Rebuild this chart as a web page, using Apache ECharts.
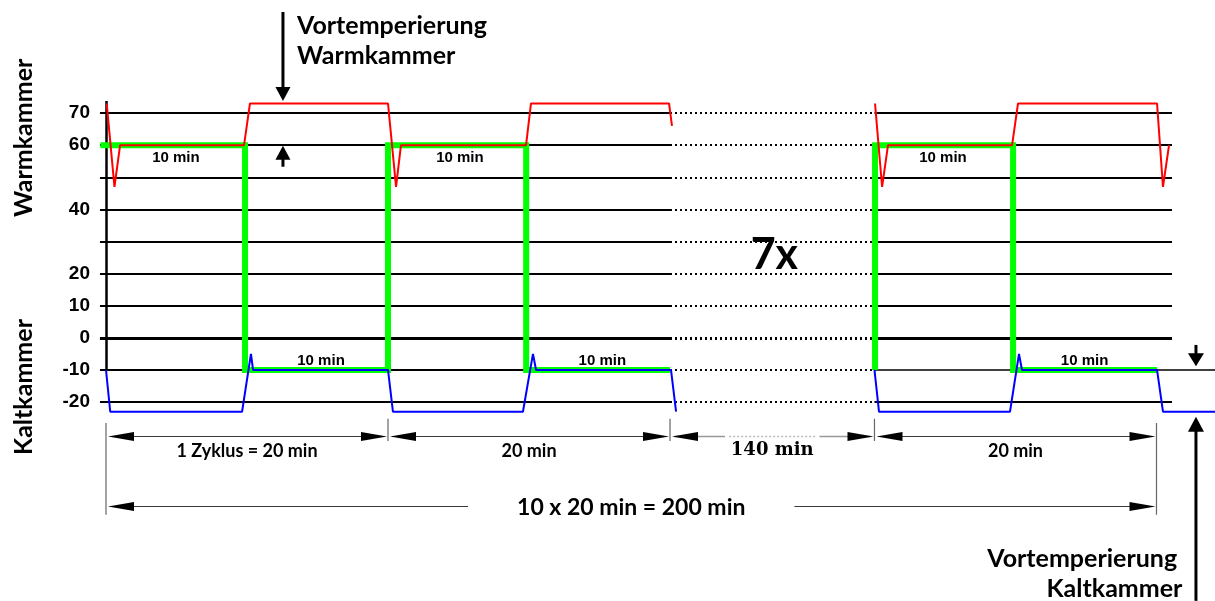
<!DOCTYPE html>
<html>
<head>
<meta charset="utf-8">
<script src="https://cdn.jsdelivr.net/npm/echarts@6.0.0/dist/echarts.min.js"></script>
<style>
  html, body { margin: 0; padding: 0; background: #fff; }
  #main { width: 1215px; height: 601px; }
</style>
</head>
<body>
<div id="main"></div>
<script>
// Temperature levels (°C): every level gets a grid line, only some carry a label
const gridLevels = [70, 60, 50, 40, 30, 20, 10, 0, -10, -20];
const labelledLevels = [70, 60, 40, 20, 10, 0, -10, -20];

// Drawn time axis (min): cycle 1, cycle 2, the 7 omitted cycles (shortened), cycle 10
const cycleBounds = [0, 20, 40, 54.5, 74.5];
const spanLabels = ['1 Zyklus = 20 min', '20 min', '140 min', '20 min'];
const totalLabel = '10 x 20 min = 200 min';
const gapLabel = '7x';
const holdLabel = '10 min';
const warmHoldAt = [4.96, 25.1, 59.36];
const coldHoldAt = [15.25, 35.2, 69.4];

// Warmkammer temperature (red)
const warmTime = [0.05, 0.6, 1.0, 9.79, 10.21, 20.0, 20.57, 20.92, 29.79, 30.14, 39.93, 40.14, '-',
                  54.54, 55.04, 55.46, 64.26, 64.68, 74.54, 74.96, 75.39];
const warmTemp = [73, 47, 60, 60, 73, 73, 47, 60, 60, 73, 73, 66, '-',
                  73, 47, 60, 60, 73, 73, 47, 60];

// Kaltkammer temperature (blue)
const coldTime = [0, 0.3, 9.65, 10.28, 10.43, 20.0, 20.35, 29.57, 30.28, 30.5, 40.07, 40.43, '-',
                  54.5, 54.82, 64.11, 64.75, 64.96, 74.54, 74.96, 78.65];
const coldTemp = [-10, -23, -23, -5, -10, -10, -23, -23, -5, -10, -10, -23, '-',
                  -10, -23, -23, -5, -10, -10, -23, -23];

// Sample position / setpoint (green): 10 min warm at 60 °C, 10 min cold at -10 °C
const setTime = [-0.4, 9.86, 9.86, 20.0, 20.0, 29.8, 29.8, 40.0, '-',
                 54.54, 54.54, 64.33, 64.33, 74.54];
const setTemp = [60, 60, -10, -10, 60, 60, -10, -10, '-',
                 -10, 60, 60, -10, -10];

const toPairs = (ts, vs) => ts.map((t, i) => (t === '-' ? ['-', '-'] : [t, vs[i]]));

const chart = echarts.init(document.getElementById('main'));

// Horizontal level lines: solid over the drawn cycles, dotted across the omitted ones
const levelLines = [];
gridLevels.forEach(lv => {
  const w = lv === 0 ? 3 : 2;
  levelLines.push({ coords: [[-0.43, lv], [40, lv]], lineStyle: { width: w } });
  levelLines.push({ coords: [[40, lv], [54.5, lv]], lineStyle: { width: w, type: [2, 3] } });
  if (lv === -10) {
    levelLines.push({ coords: [[54.5, lv], [78.65, lv]], lineStyle: { width: 1.5 } });
  } else {
    levelLines.push({ coords: [[54.5, lv], [75.6, lv]], lineStyle: { width: w } });
  }
});
// vertical temperature axis
levelLines.push({ coords: [[0, 73.8], [0, -10]], lineStyle: { width: 2.5 } });

chart.setOption({
  animation: false,
  backgroundColor: '#ffffff',
  grid: { left: 98.95, right: 0, top: 81, height: 353.2, containLabel: false },
  xAxis: { type: 'value', min: -0.5, max: 78.65, show: false },
  yAxis: {
    type: 'value', min: -30, max: 80, interval: 10,
    axisLine: { show: false }, axisTick: { show: false }, splitLine: { show: false },
    axisLabel: {
      margin: 9,
      formatter: v => (labelledLevels.includes(v) ? String(v) : ''),
      fontFamily: '"Liberation Sans", Arial, sans-serif',
      fontWeight: 'bold', fontSize: 19, color: '#000'
    }
  },
  series: [
    {
      type: 'lines', coordinateSystem: 'cartesian2d', silent: true, z: 1,
      lineStyle: { color: '#000', width: 2, opacity: 1, curveness: 0 },
      data: levelLines
    },
    {
      name: 'Soll', type: 'line', data: toPairs(setTime, setTemp), showSymbol: false, symbol: 'none',
      connectNulls: false, clip: false, z: 2,
      lineStyle: { color: '#00ff00', width: 6, join: 'miter' }
    },
    {
      name: 'Kaltkammer', type: 'line', data: toPairs(coldTime, coldTemp), showSymbol: false, symbol: 'none',
      connectNulls: false, clip: false, z: 3,
      lineStyle: { color: '#0000ff', width: 2 }
    },
    {
      name: 'Warmkammer', type: 'line', data: toPairs(warmTime, warmTemp), showSymbol: false, symbol: 'none',
      connectNulls: false, clip: false, z: 3,
      lineStyle: { color: '#ff0000', width: 2 }
    }
  ]
});

// Texts, dimension lines and arrows, placed in data units through the grid's scales
function buildAnnotations() {
  const P = (x, y) => chart.convertToPixel({ gridIndex: 0 }, [x, y]);
  const g = [];
  const measure = document.createElement('canvas').getContext('2d');

  const addText = (str, x, y, font, opts = {}) => {
    const [px, py] = P(x, y);
    g.push({
      type: 'text', x: px, y: py, rotation: opts.rotation || 0, z: 20, silent: true,
      style: { text: str, font, fill: opts.color || '#000', align: opts.align || 'center', verticalAlign: 'middle' }
    });
  };
  const addLine = (x1, y1, x2, y2, stroke, lineWidth, lineDash) => {
    const a = P(x1, y1), b = P(x2, y2);
    g.push({
      type: 'line', z: 15, silent: true,
      shape: { x1: a[0], y1: a[1], x2: b[0], y2: b[1] },
      style: { stroke, lineWidth, lineDash: lineDash || null }
    });
  };
  const addHeadPx = (tx, ty, dx, dy, len, half, fill) => {
    const bx = tx - dx * len, by = ty - dy * len;
    const nx = -dy, ny = dx;
    g.push({
      type: 'polygon', z: 16, silent: true,
      shape: { points: [[tx, ty], [bx + nx * half, by + ny * half], [bx - nx * half, by - ny * half]] },
      style: { fill: fill || '#000' }
    });
  };
  const addVArrow = (x, yTail, yTip, len, half, shaftW) => {
    const [px, pTail] = P(x, yTail);
    const pTip = P(x, yTip)[1];
    const dir = pTip > pTail ? 1 : -1;
    g.push({
      type: 'line', z: 15, silent: true,
      shape: { x1: px, y1: pTail, x2: px, y2: pTip - dir * (len - 1) },
      style: { stroke: '#000', lineWidth: shaftW }
    });
    addHeadPx(px, pTip, 0, dir, len, half);
  };

  // axis titles
  const nameFont = 'bold 25px Lato, "Open Sans", sans-serif';
  addText('Warmkammer', -5.8, 62.3, nameFont, { rotation: Math.PI / 2 });
  addText('Kaltkammer', -5.8, -15.3, nameFont, { rotation: Math.PI / 2 });

  // hold-time labels
  const holdFont = 'bold 15px "Liberation Sans", Arial, sans-serif';
  warmHoldAt.forEach(x => addText(holdLabel, x, 56.0, holdFont));
  coldHoldAt.forEach(x => addText(holdLabel, x, -7.2, holdFont));

  // omitted cycles
  addText(gapLabel, 47.4, 25.8, 'bold 43px Lato, sans-serif');

  // pre-conditioning notes with arrows
  const noteFont = 'bold 25px Lato, "Open Sans", sans-serif';
  addText('Vortemperierung', 13.55, 97.0, noteFont, { align: 'left' });
  addText('Warmkammer', 13.55, 87.7, noteFont, { align: 'left' });
  addVArrow(12.55, 101.5, 73.8, 14, 7.5, 3);
  addVArrow(12.55, 53.3, 59.8, 14, 7.5, 3);

  addText('Vortemperierung', 62.5, -68.8, noteFont, { align: 'left' });
  addText('Kaltkammer', 66.7, -78.2, noteFont, { align: 'left' });
  addVArrow(77.3, -2.2, -8.8, 13, 8, 3);
  addVArrow(77.3, -81.9, -24.6, 15, 8, 3);

  // dimension row: one arrow per span
  const rowY = -30.5, labelY = -35.4;
  const dimColor = '#3a3a3a';
  const tickColor = '#666';
  cycleBounds.forEach((b, i) => {
    const long = i === 0 || i === cycleBounds.length - 1;
    addLine(b, long ? -26.5 : -25.2, b, long ? -55.1 : -32.1, tickColor, 1.2);
  });
  for (let i = 0; i < cycleBounds.length - 1; i++) {
    const a = P(cycleBounds[i], rowY), b = P(cycleBounds[i + 1], rowY);
    const ya = Math.round(a[1]) + 0.5;
    if (i === 2) {
      // shortened span: grey shaft, dotted in the middle
      const s1 = P(43.9, rowY)[0], d1 = P(44.2, rowY)[0], d2 = P(50.3, rowY)[0], s2 = P(50.6, rowY)[0];
      g.push({ type: 'line', z: 15, silent: true, shape: { x1: a[0] + 4, y1: ya, x2: s1, y2: ya }, style: { stroke: '#999', lineWidth: 1.5 } });
      g.push({ type: 'line', z: 15, silent: true, shape: { x1: d1, y1: ya, x2: d2, y2: ya }, style: { stroke: '#bbb', lineWidth: 1.5, lineDash: [2, 2] } });
      g.push({ type: 'line', z: 15, silent: true, shape: { x1: s2, y1: ya, x2: b[0] - 4, y2: ya }, style: { stroke: '#999', lineWidth: 1.5 } });
      addHeadPx(a[0] + 2, ya, -1, 0, 26, 4.5);
      addHeadPx(b[0] - 1, ya, 1, 0, 26, 4.5);
      addText(spanLabels[i], (cycleBounds[i] + cycleBounds[i + 1]) / 2, -35.1, 'bold 18px "DejaVu Serif", serif');
    } else {
      g.push({ type: 'line', z: 15, silent: true, shape: { x1: a[0] + 4, y1: ya, x2: b[0] - 4, y2: ya }, style: { stroke: dimColor, lineWidth: 1 } });
      addHeadPx(a[0] + 2, ya, -1, 0, 26, 4.5);
      addHeadPx(b[0] - 1, ya, 1, 0, 26, 4.5);
      addText(spanLabels[i], (cycleBounds[i] + cycleBounds[i + 1]) / 2, labelY, 'bold 18px Lato, sans-serif');
    }
  }

  // total duration arrow, broken around its label
  const totFont = 'bold 23px Lato, sans-serif';
  const t0 = cycleBounds[0], t1 = cycleBounds[cycleBounds.length - 1];
  const tMid = (t0 + t1) / 2;
  addText(totalLabel, tMid, -52.9, totFont);
  measure.font = totFont;
  const halfGap = measure.measureText(totalLabel).width / 2 + 49;
  const L = P(t0, -52.3), R = P(t1, -52.3), M = P(tMid, -52.3);
  const yr = Math.round(L[1]) + 0.5;
  g.push({ type: 'line', z: 15, silent: true, shape: { x1: L[0] + 4, y1: yr, x2: M[0] - halfGap, y2: yr }, style: { stroke: dimColor, lineWidth: 1 } });
  g.push({ type: 'line', z: 15, silent: true, shape: { x1: M[0] + halfGap, y1: yr, x2: R[0] - 4, y2: yr }, style: { stroke: dimColor, lineWidth: 1 } });
  addHeadPx(L[0] + 2, yr, -1, 0, 26, 4.5);
  addHeadPx(R[0] - 1, yr, 1, 0, 26, 4.5);

  chart.setOption({ graphic: { elements: g } });
}
buildAnnotations();
</script>
</body>
</html>
